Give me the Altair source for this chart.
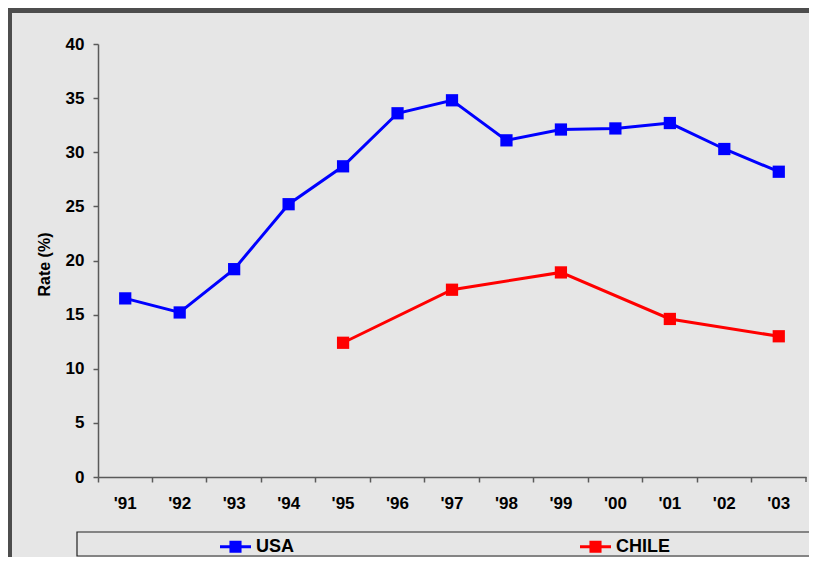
import altair as alt
import pandas as pd

years = ["'91", "'92", "'93", "'94", "'95", "'96", "'97", "'98", "'99", "'00", "'01", "'02", "'03"]
usa = [16.5, 15.2, 19.2, 25.2, 28.7, 33.6, 34.8, 31.1, 32.1, 32.2, 32.7, 30.3, 28.2]
chile_years = ["'95", "'97", "'99", "'01", "'03"]
chile = [12.4, 17.3, 18.9, 14.6, 13.0]
series = ["USA", "CHILE"]
colors = ["#0000ff", "#ff0000"]

rows = [{"year": y, "rate": v, "country": "USA"} for y, v in zip(years, usa)]
rows += [{"year": y, "rate": v, "country": "CHILE"} for y, v in zip(chile_years, chile)]
df = pd.DataFrame(rows)

FONT = "Liberation Sans"
W, H = 708, 433
PAD_L, PAD_T, PAD_R, PAD_B = 90, 36, 3, 80

x_enc = alt.X(
    "year:O",
    sort=years,
    scale=alt.Scale(type="band", paddingInner=0, paddingOuter=0),
    axis=alt.Axis(
        title=None, labelAngle=0, bandPosition=0, labelFontSize=17, labelFont=FONT,
        labelFontWeight="bold", labelColor="#000000", labelPadding=13, tickSize=5,
        domainColor="#5a5a5a", tickColor="#5a5a5a", domainWidth=1.5, tickWidth=1.5,
        grid=False, labelBound=False, labelFlush=False,
    ),
)
y_enc = alt.Y(
    "rate:Q",
    scale=alt.Scale(domain=[0, 40], nice=False),
    axis=alt.Axis(
        title="Rate (%)", values=list(range(0, 41, 5)), labelFontSize=17, labelFont=FONT,
        labelFontWeight="bold", labelColor="#000000", labelPadding=9, tickSize=5,
        domainColor="#5a5a5a", tickColor="#5a5a5a", domainWidth=1.5, tickWidth=1.5,
        grid=False, titleFont=FONT, titleFontSize=16, titleFontWeight="bold",
        titleColor="#000000", titleX=-54, titleY=220, titleAngle=270,
        titleAlign="center", titleBaseline="middle", labelFlush=False,
    ),
)
color_enc = alt.Color(
    "country:N",
    scale=alt.Scale(domain=series, range=colors),
    sort=series,
    legend=alt.Legend(
        title=None, orient="none", direction="horizontal", columns=2,
        legendX=122, legendY=487, columnPadding=285, padding=0,
        symbolType="M-1,-0.1L1,-0.1L1,0.1L-1,0.1Z M-0.39,-0.39L0.39,-0.39L0.39,0.39L-0.39,0.39Z",
        symbolSize=961, symbolStrokeWidth=0, labelOffset=5,
        labelFont=FONT, labelFontSize=18, labelFontWeight="bold", labelColor="#000000",
    ),
)

one = alt.Data(values=[{"k": 1}])

top_band = alt.Chart(one).mark_rect(color="#4d4d4d").encode(
    x=alt.value(-PAD_L), x2=alt.value(W + PAD_R), y=alt.value(-PAD_T), y2=alt.value(-PAD_T + 5)
)
left_band = alt.Chart(one).mark_rect(color="#4d4d4d").encode(
    x=alt.value(-PAD_L), x2=alt.value(-PAD_L + 4), y=alt.value(-PAD_T), y2=alt.value(H + PAD_B)
)
legend_box = alt.Chart(one).mark_rect(fill="#e6e6e6", stroke="#222222", strokeWidth=1.2).encode(
    x=alt.value(-21), x2=alt.value(713), y=alt.value(488), y2=alt.value(512)
)
end_tick = alt.Chart(one).mark_rule(color="#5a5a5a", strokeWidth=1.5).encode(
    x=alt.value(W), y=alt.value(H), y2=alt.value(H + 5)
)

base = alt.Chart(df).encode(x=x_enc, y=y_enc, color=color_enc, detail="country:N")
lines = base.mark_line(strokeWidth=3)
points = base.mark_point(shape="square", filled=True, size=150, opacity=1)

chart = alt.layer(top_band, left_band, legend_box, end_tick, lines, points).properties(
    width=W,
    height=H,
    background="#e6e6e6",
    padding={"left": PAD_L, "top": PAD_T, "right": PAD_R, "bottom": PAD_B},
    autosize=alt.AutoSizeParams(type="none"),
).configure_view(stroke=None)

chart.save("out.html", embed_options={"renderer": "svg", "actions": False})
